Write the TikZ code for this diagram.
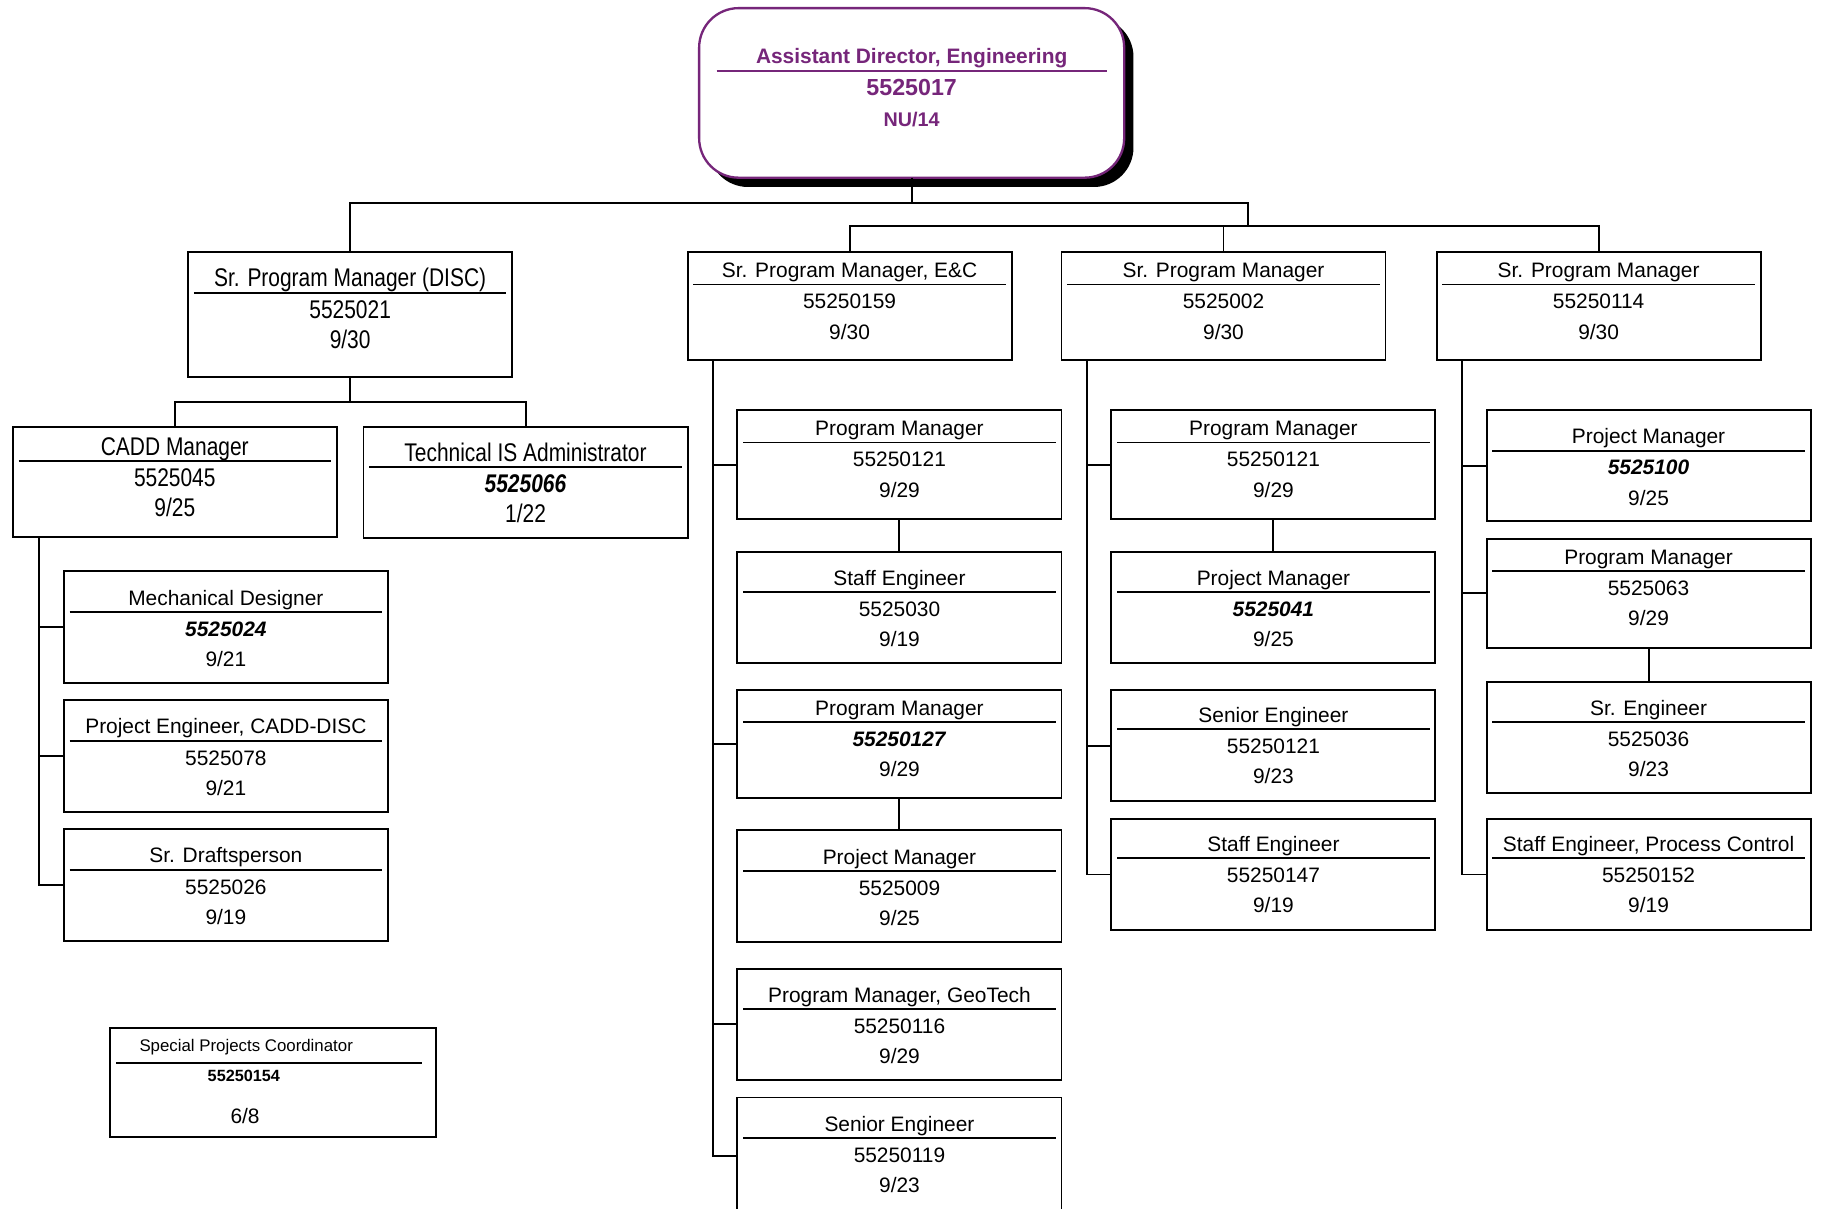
\documentclass[tikz,border=0pt]{standalone}
\usepackage{fontspec}
\setmainfont{Liberation Sans}
\newfontfamily\narrowfont[FakeStretch=0.82]{Liberation Sans}
\definecolor{adpurple}{RGB}{118,38,122}
\tikzset{
  conn/.style={line width=1.7pt},
  box/.style={draw, line width=1.7pt, anchor=north west, minimum width=279pt, inner sep=0pt, outer sep=0pt},
  rule/.style={line width=1.6pt},
  lbl/.style={inner sep=0pt, outer sep=0pt, anchor=base},
  nf/.style={font=\fontsize{18}{20}\selectfont, yshift=-1pt},
  wf/.style={font=\narrowfont\fontsize{22}{24}\selectfont, yshift=-2pt},
}
\newcommand\obox[9]{%
  \node[box, minimum height=#4pt] (#1) at (#2,#3) {};
  \node[lbl,#6] (#1-t) at ([yshift={-(#5+6)*1pt}]#1.north) {#7};
  \draw[rule] ([xshift=5pt,yshift={-(#5+13)*1pt}]#1.north west) -- ([xshift=-5pt,yshift={-(#5+13)*1pt}]#1.north east);
  \node[lbl,#6] (#1-n) at ([yshift={-(#5+33)*1pt}]#1.north) {#8};
  \node[lbl,#6] (#1-d) at ([yshift={-(#5+59)*1pt}]#1.north) {#9};
}
\begin{document}
\begin{tikzpicture}[x=1pt,y=-1pt]
\useasboundingbox (0,0) rectangle (1568,1041);
\clip (0,0) rectangle (1568,1041);
\fill[white] (0,0) rectangle (1568,1041);

% top box
\node[fill=black, rounded corners=34pt, minimum width=366pt, minimum height=146pt, anchor=north west, inner sep=0pt, outer sep=0pt] (topsh) at (610,15) {};
\node[draw=adpurple, line width=2pt, fill=white, rounded corners=34pt, minimum width=366pt, minimum height=146pt, anchor=north west, inner sep=0pt, outer sep=0pt] (top) at (602,7) {};
\node[lbl, text=adpurple, font=\bfseries\fontsize{18}{20}\selectfont] (top-t) at (785,55) {Assistant Director, Engineering};
\draw[adpurple, line width=1.5pt] ([xshift=15pt]top.north west |- 0,61) -- ([xshift=-15pt]top.north east |- 0,61);
\node[lbl, text=adpurple, font=\bfseries\fontsize{20}{22}\selectfont] (top-n) at (785,82) {5525017};
\node[lbl, text=adpurple, font=\bfseries\fontsize{17}{19}\selectfont] (top-d) at (785,109) {NU/14};

% level 1
\obox{disc}{162}{217}{108}{22}{wf}{Sr. Program Manager (DISC)}{5525021}{9/30}
\obox{ec}{592}{217}{93}{15}{nf}{Sr. Program Manager, E\&C}{55250159}{9/30}
\obox{spm2}{914}{217}{93}{15}{nf}{Sr. Program Manager}{5525002}{9/30}
\obox{spm3}{1237}{217}{93}{15}{nf}{Sr. Program Manager}{55250114}{9/30}

% DISC branch
\obox{cadd}{11}{368}{94}{16}{wf}{CADD Manager}{5525045}{9/25}
\obox{tis}{313}{368}{95}{21}{wf}{Technical IS Administrator}{\textbf{\textit{5525066}}}{1/22}
\obox{mech}{55}{492}{96}{22}{nf}{Mechanical Designer}{\textbf{\textit{5525024}}}{9/21}
\obox{pe}{55}{603}{96}{22}{nf}{Project Engineer, CADD-DISC}{5525078}{9/21}
\obox{sd}{55}{714}{96}{22}{nf}{Sr. Draftsperson}{5525026}{9/19}

% E&C branch
\obox{pm1}{635}{353}{94}{15}{nf}{Program Manager}{55250121}{9/29}
\obox{stf1}{635}{475}{96}{22}{nf}{Staff Engineer}{5525030}{9/19}
\obox{pm2}{635}{594}{93}{15}{nf}{Program Manager}{\textbf{\textit{55250127}}}{9/29}
\obox{pj1}{635}{715}{96}{22}{nf}{Project Manager}{5525009}{9/25}
\obox{geo}{635}{834}{96}{22}{nf}{Program Manager, GeoTech}{55250116}{9/29}
\obox{se1}{635}{945}{100}{22}{nf}{Senior Engineer}{55250119}{9/23}

% Sr PM 5525002 branch
\obox{pm3}{957}{353}{94}{15}{nf}{Program Manager}{55250121}{9/29}
\obox{pj2}{957}{475}{96}{22}{nf}{Project Manager}{\textbf{\textit{5525041}}}{9/25}
\obox{se2}{957}{594}{96}{21}{nf}{Senior Engineer}{55250121}{9/23}
\obox{stf2}{957}{705}{96}{21}{nf}{Staff Engineer}{55250147}{9/19}

% Sr PM 55250114 branch
\obox{pj3}{1280}{353}{96}{22}{nf}{Project Manager}{\textbf{\textit{5525100}}}{9/25}
\obox{pm4}{1280}{464}{94}{15}{nf}{Program Manager}{5525063}{9/29}
\obox{sre}{1280}{587}{96}{22}{nf}{Sr. Engineer}{5525036}{9/23}
\obox{stfpc}{1280}{705}{96}{21}{nf}{Staff Engineer, Process Control}{55250152}{9/19}

% special projects
\node[box, minimum width=280pt, minimum height=94pt] (spc) at (95,885) {};
\node[lbl, font=\fontsize{14.5}{16}\selectfont] (spc-t) at (212,905) {Special Projects Coordinator};
\draw[rule] ([xshift=5pt,yshift=-30pt]spc.north west) -- ([xshift=-12pt,yshift=-30pt]spc.north east);
\node[lbl, font=\bfseries\fontsize{14}{16}\selectfont] (spc-n) at (210,931) {55250154};
\node[lbl, font=\fontsize{18}{20}\selectfont] (spc-d) at (211,967) {6/8};

% connectors
\coordinate (b1) at ([yshift=-22pt]top.south);
\coordinate (b2) at (1075,175);
\coordinate (b3) at (1075,195);
\draw[conn] (top.south) -- (b1);
\draw[conn] (disc.north) |- (b2) -- (b3);
\draw[conn] (ec.north) |- (b3);
\draw[conn] (spm3.north) |- (b3);
\draw[conn] (spm2.north) -- (spm2.north |- b3);

\coordinate (b4) at ([yshift=-21pt]disc.south);
\draw[conn] (disc.south) -- (b4);
\draw[conn] (cadd.north) |- (b4) -| (tis.north);

\coordinate (c1) at ([xshift=23pt]cadd.south west);
\foreach \n in {mech,pe,sd} \draw[conn] (c1) |- (\n.west);

\coordinate (c2) at ([xshift=22pt]ec.south west);
\foreach \n in {pm1,pm2,geo,se1} \draw[conn] (c2) |- (\n.west);
\draw[conn] (pm1.south) -- (stf1.north);
\draw[conn] (pm2.south) -- (pj1.north);

\coordinate (c3) at ([xshift=22pt]spm2.south west);
\foreach \n in {pm3,se2,stf2} \draw[conn] (c3) |- (\n.west);
\draw[conn] (pm3.south) -- (pj2.north);

\coordinate (c4) at ([xshift=22pt]spm3.south west);
\foreach \n in {pj3,pm4,stfpc} \draw[conn] (c4) |- (\n.west);
\draw[conn] (pm4.south) -- (sre.north);
\end{tikzpicture}
\end{document}
